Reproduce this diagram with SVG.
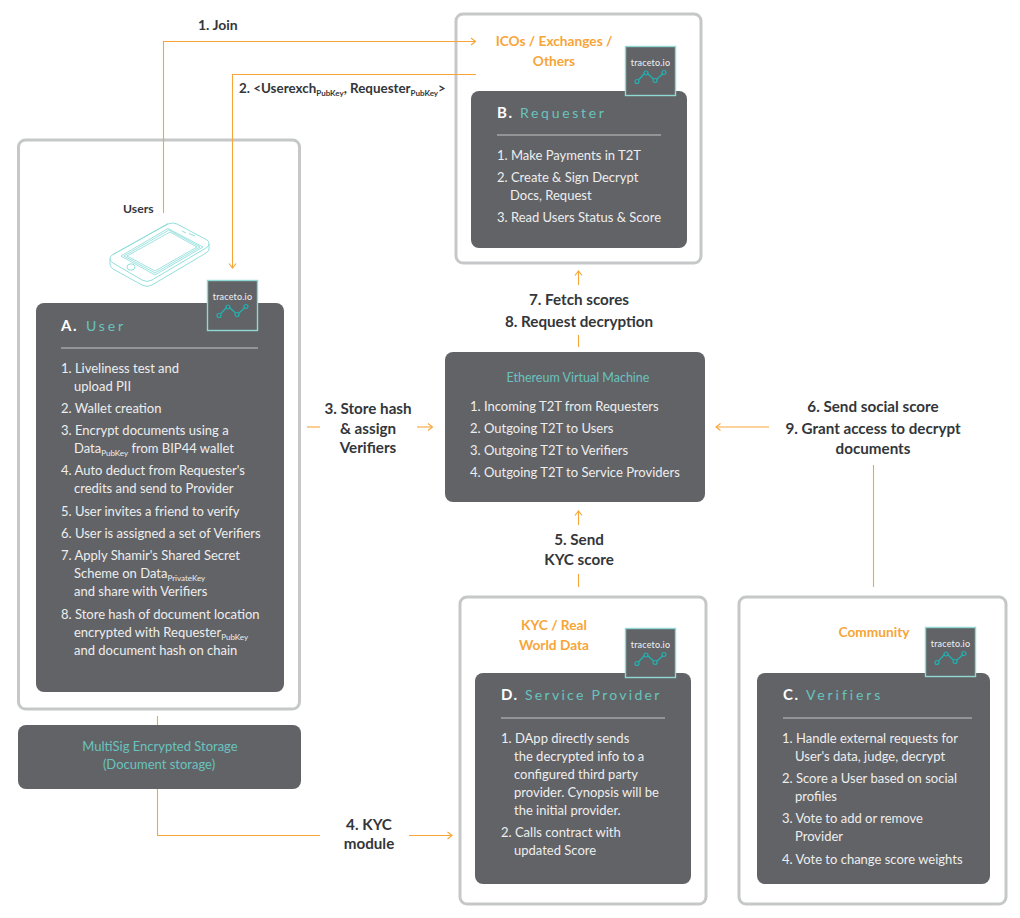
<svg xmlns="http://www.w3.org/2000/svg" width="1020" height="918" viewBox="0 0 1020 918">
<style>
text{font-family:"Lato","Noto Sans","Liberation Sans",sans-serif}
.frame{fill:#fff;stroke:#c6c7c8;stroke-width:3}
.panel{fill:#626366}
.rule{stroke:#a3a4a6;stroke-width:1.4;fill:none}
.b{fill:#eeeeee;font-size:13px;font-weight:400}
.head{fill:#fff;font-size:15px;font-weight:700;letter-spacing:1.5px}
.title{fill:#68c3bf;font-size:14px;letter-spacing:2.9px;font-weight:400}
.teal{fill:#68c3bf;font-size:13px;text-anchor:middle}
.org{fill:#f7a538;font-size:13.7px;font-weight:700;text-anchor:middle}
.lab{fill:#33363a;font-size:15.200px;font-weight:700;text-anchor:middle}
.small{fill:#33363a;font-size:13.400px;font-weight:700}
.sub{font-size:8px}
.logo{fill:#626366;stroke:#8fd8d3;stroke-width:1.4}
.lt{fill:#f2f2f2;font-size:9px;text-anchor:middle;letter-spacing:.2px}
.spark{fill:none;stroke:#1fb3b3;stroke-width:1.2}
.c{fill:none;stroke:#f7a538;stroke-width:1.1}
.phone{fill:none;stroke:#86dcd8;stroke-width:.9}
</style>
<defs>
<g id="spark" class="spark">
<path d="M-12 6-6-.5M-3 -.5 3 5M6 5.500 12 0"/>
<circle cx="-13.500" cy="7.500" r="2"/><circle cx="-4.500" cy="-1" r="2"/><circle cx="4.500" cy="6.500" r="2"/><circle cx="13.500" cy="-1.500" r="2"/>
</g>
</defs>

<g id="node-a">
<rect class="frame" x="18.500" y="140" width="281" height="569" rx="7"/>
<rect class="panel" x="36" y="303" width="248" height="389" rx="8"/>
<text class="head" x="61" y="331">A.</text><text class="title" x="86" y="331">User</text>
<path class="rule" d="M61 348H258"/>
<text class="b"><tspan x="61" y="373">1. Liveliness test and</tspan><tspan x="74" y="391">upload PII</tspan>
<tspan x="61" y="413">2. Wallet creation</tspan>
<tspan x="61" y="435">3. Encrypt documents using a</tspan><tspan x="74" y="453">Data<tspan class="sub" dy="3">PubKey</tspan><tspan dy="-3"> from BIP44 wallet</tspan></tspan>
<tspan x="61" y="475">4. Auto deduct from Requester's</tspan><tspan x="74" y="493">credits and send to Provider</tspan>
<tspan x="61" y="516">5. User invites a friend to verify</tspan>
<tspan x="61" y="538">6. User is assigned a set of Verifiers</tspan>
<tspan x="61" y="560">7. Apply Shamir's Shared Secret</tspan><tspan x="74" y="578">Scheme on Data<tspan class="sub" dy="3">PrivateKey</tspan></tspan><tspan x="74" y="596">and share with Verifiers</tspan>
<tspan x="61" y="619">8. Store hash of document location</tspan><tspan x="74" y="637">encrypted with Requester<tspan class="sub" dy="3">PubKey</tspan></tspan><tspan x="74" y="655">and document hash on chain</tspan></text>
<rect class="logo" x="207.500" y="280.500" width="50" height="50"/>
<text class="lt" x="232.500" y="300">traceto.io</text><use href="#spark" x="232.500" y="308"/>
</g>

<g id="users">
<text class="small" x="123" y="213" style="font-size:12.200px">Users</text>
<g class="phone">
<path d="M110 258Q110 256 113 254.500L168 224Q173 222 177 224L207 240Q209 241 209 244V249Q209 251 206 253L152 285Q147 288 142 285L113 269Q110 267 110 264Z"/>
<path d="M110 259Q110 261 113 263L142 280Q147 283 152 280L206 248Q209 246 209 244"/>
<path d="M113 254.500 168 223.500M121 256 168 228.500 203 247 155 275Z" stroke-width=".800"/>
<path d="M124 256 169 230 200 247 155 273Z" stroke-width=".800"/>
<path d="M127 256 170 232 197 247 155 271Z" stroke-width=".800"/>
<ellipse cx="131" cy="267" rx="4" ry="3.200"/>
<path d="M182 231 186 233M189 233.500 195 236"/>
</g>
</g>

<g id="node-storage">
<rect x="18" y="725" width="283" height="64" rx="8" class="panel"/>
<text class="teal" x="160" y="751">MultiSig Encrypted Storage</text>
<text class="teal" x="159" y="769">(Document storage)</text>
</g>

<g id="node-b">
<rect class="frame" x="456" y="14" width="245" height="249" rx="7"/>
<text class="org" x="554" y="46">ICOs / Exchanges /</text><text class="org" x="554" y="66">Others</text>
<rect class="panel" x="471" y="91" width="216" height="157" rx="8"/>
<text class="head" x="497" y="118">B.</text><text class="title" x="520" y="118" style="letter-spacing:2.700px">Requester</text>
<path class="rule" d="M497 135H661"/>
<text class="b"><tspan x="497" y="160">1. Make Payments in T2T</tspan>
<tspan x="497" y="182">2. Create &amp; Sign Decrypt</tspan><tspan x="510" y="200">Docs, Request</tspan>
<tspan x="497" y="222">3. Read Users Status &amp; Score</tspan></text>
<rect class="logo" x="625.500" y="46.500" width="50" height="49"/>
<text class="lt" x="650.500" y="66">traceto.io</text><use href="#spark" x="650.500" y="74"/>
</g>

<g id="node-evm">
<rect class="panel" x="445" y="352" width="260" height="150" rx="8"/>
<text class="teal" x="578" y="382" style="font-size:12.500px">Ethereum Virtual Machine</text>
<text class="b"><tspan x="470" y="411">1. Incoming T2T from Requesters</tspan>
<tspan x="470" y="433">2. Outgoing T2T to Users</tspan>
<tspan x="470" y="455">3. Outgoing T2T to Verifiers</tspan>
<tspan x="470" y="477">4. Outgoing T2T to Service Providers</tspan></text>
</g>

<g id="node-d">
<rect class="frame" x="460" y="597" width="246" height="307" rx="7"/>
<text class="org" x="554" y="630">KYC / Real</text><text class="org" x="554" y="650">World Data</text>
<rect class="panel" x="475" y="673" width="216" height="211" rx="8"/>
<text class="head" x="501" y="700">D.</text><text class="title" x="525" y="700" style="letter-spacing:2.300px">Service Provider</text>
<path class="rule" d="M501 718H665"/>
<text class="b"><tspan x="501" y="743">1. DApp directly sends</tspan><tspan x="514" y="761">the decrypted info to a</tspan><tspan x="514" y="779">configured third party</tspan><tspan x="514" y="797">provider. Cynopsis will be</tspan><tspan x="514" y="815">the initial provider.</tspan>
<tspan x="501" y="837">2. Calls contract with</tspan><tspan x="514" y="855">updated Score</tspan></text>
<rect class="logo" x="625.500" y="628.500" width="50" height="49"/>
<text class="lt" x="650.500" y="648">traceto.io</text><use href="#spark" x="650.500" y="656"/>
</g>

<g id="node-c">
<rect class="frame" x="739" y="597" width="267" height="307" rx="7"/>
<text class="org" x="874" y="637">Community</text>
<rect class="panel" x="757" y="673" width="233" height="211" rx="8"/>
<text class="head" x="783" y="700">C.</text><text class="title" x="806" y="700">Verifiers</text>
<path class="rule" d="M783 718H972"/>
<text class="b"><tspan x="782" y="743">1. Handle external requests for</tspan><tspan x="795" y="761">User's data, judge, decrypt</tspan>
<tspan x="782" y="783">2. Score a User based on social</tspan><tspan x="795" y="801">profiles</tspan>
<tspan x="782" y="823">3. Vote to add or remove</tspan><tspan x="795" y="841">Provider</tspan>
<tspan x="782" y="864">4. Vote to change score weights</tspan></text>
<rect class="logo" x="925.500" y="627.500" width="50" height="49"/>
<text class="lt" x="950.500" y="647">traceto.io</text><use href="#spark" x="950.500" y="655"/>
</g>

<g id="connectors" class="c">
<path d="M163.500 213V41.500H476"/><path d="M471 38l4.500 3.500-4.500 3.500"/>
<path d="M476 74.500H232.500V268"/><path d="M229 263.500l3.500 4.500 3.500-4.500"/>
<path d="M307 427H320"/><path d="M417 427H432"/><path d="M428 423.500l4.500 3.500-4.500 3.500"/>
<path d="M578.500 347V335"/><path d="M578.500 285V271"/><path d="M575 275.500l3.500-4.500 3.500 4.500"/>
<path d="M578.500 587V574"/><path d="M578.500 525V511"/><path d="M575 515.500l3.500-4.500 3.500 4.500"/>
<path d="M769 427H716"/><path d="M720.500 423.500l-4.500 3.500 4.500 3.500"/>
<path d="M873.500 587V465"/>
<path d="M157.500 716V725"/>
<path d="M157.500 789V835.500H320"/>
<path d="M409 835.500H452"/><path d="M447.500 832l4.500 3.500-4.500 3.500"/>
</g>

<g id="labels">
<text class="small" x="198" y="30" style="font-size:14px">1. Join</text>
<text class="small" x="239" y="93">2. &lt;Userexch<tspan class="sub" dy="3">PubKey</tspan><tspan dy="-3">, Requester</tspan><tspan class="sub" dy="3">PubKey</tspan><tspan dy="-3">&gt;</tspan></text>
<text class="lab" x="368" y="414">3. Store hash</text><text class="lab" x="368" y="434">&amp; assign</text><text class="lab" x="368" y="453">Verifiers</text>
<text class="lab" x="579" y="305">7. Fetch scores</text><text class="lab" x="579" y="327">8. Request decryption</text>
<text class="lab" x="579" y="545">5. Send</text><text class="lab" x="579" y="565">KYC score</text>
<text class="lab" x="873" y="412">6. Send social score</text><text class="lab" x="873" y="434">9. Grant access to decrypt</text><text class="lab" x="873" y="454">documents</text>
<text class="lab" x="369" y="830">4. KYC</text><text class="lab" x="369" y="849">module</text>
</g>
</svg>
